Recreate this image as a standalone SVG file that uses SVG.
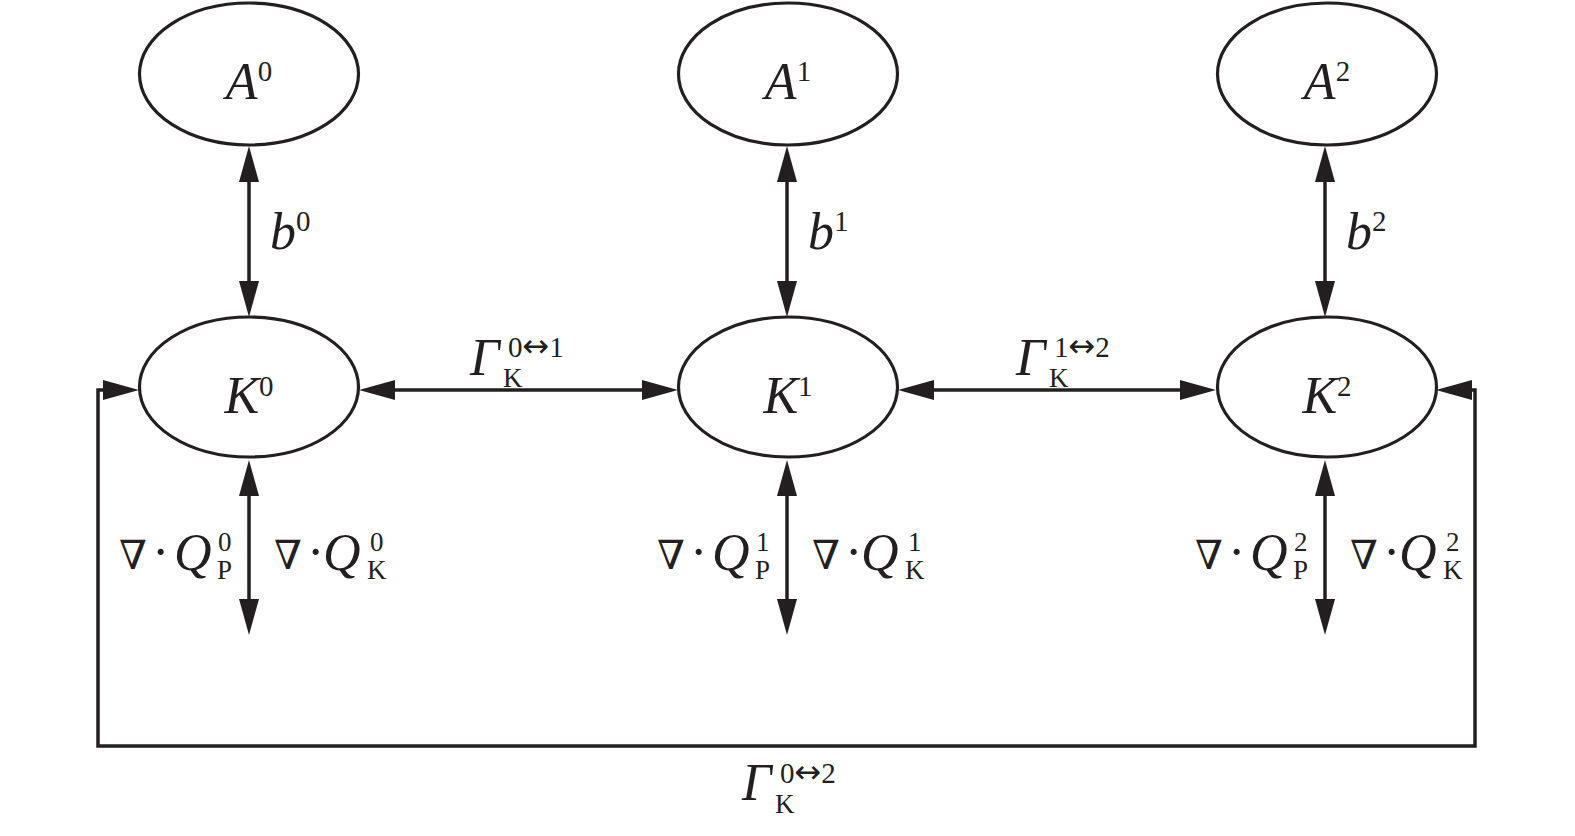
<svg xmlns="http://www.w3.org/2000/svg" width="1575" height="836" viewBox="0 0 1575 836">
<defs>
<style>
.node{fill:#fff;stroke:#231f20;stroke-width:3.2}
.ln{fill:none;stroke:#231f20;stroke-width:3.5}
text{font-family:"Liberation Serif","Times New Roman",serif;fill:#231f20}
.big{font-size:52px}
.it{font-style:italic}
.sm{font-size:29px;font-style:normal}
.ss{font-size:27px;font-style:normal}
.nab{font-size:40px;font-family:"DejaVu Serif","Liberation Serif",serif}
.ar{font-family:"DejaVu Sans",sans-serif;font-size:32px}
</style>
<marker id="arr" markerUnits="userSpaceOnUse" markerWidth="36" markerHeight="22" viewBox="0 0 36 22" refX="16" refY="11" orient="auto-start-reverse">
<path d="M0,1 L36,11 L0,21 z" fill="#231f20"/>
</marker>
</defs>
<rect width="1575" height="836" fill="#fff"/>

<g id="connectors">
<line class="ln" x1="249" y1="166" x2="249" y2="297" marker-start="url(#arr)" marker-end="url(#arr)"/>
<line class="ln" x1="787" y1="166" x2="787" y2="297" marker-start="url(#arr)" marker-end="url(#arr)"/>
<line class="ln" x1="1325" y1="166" x2="1325" y2="297" marker-start="url(#arr)" marker-end="url(#arr)"/>
<line class="ln" x1="249" y1="480" x2="249" y2="615" marker-start="url(#arr)" marker-end="url(#arr)"/>
<line class="ln" x1="787" y1="480" x2="787" y2="615" marker-start="url(#arr)" marker-end="url(#arr)"/>
<line class="ln" x1="1325" y1="480" x2="1325" y2="615" marker-start="url(#arr)" marker-end="url(#arr)"/>
<line class="ln" x1="379" y1="390" x2="658" y2="390" marker-start="url(#arr)" marker-end="url(#arr)"/>
<line class="ln" x1="918" y1="390" x2="1196" y2="390" marker-start="url(#arr)" marker-end="url(#arr)"/>
<path class="ln" d="M119,390 H98 V746 H1475 V390 H1456" marker-start="url(#arr)" marker-end="url(#arr)"/>
</g>

<g id="A0"><ellipse class="node" cx="249" cy="74" rx="109.5" ry="71"/><text class="big" x="249" y="99" text-anchor="middle"><tspan class="it">A</tspan><tspan class="sm" dy="-18">0</tspan></text></g>
<g id="A1"><ellipse class="node" cx="788" cy="74" rx="109.5" ry="71"/><text class="big" x="788" y="99" text-anchor="middle"><tspan class="it">A</tspan><tspan class="sm" dy="-18">1</tspan></text></g>
<g id="A2"><ellipse class="node" cx="1327" cy="74" rx="109.5" ry="71"/><text class="big" x="1327" y="99" text-anchor="middle"><tspan class="it">A</tspan><tspan class="sm" dy="-18">2</tspan></text></g>

<g id="K0"><ellipse class="node" cx="249" cy="387" rx="109.5" ry="70"/><text class="big" x="249" y="413" text-anchor="middle"><tspan class="it">K</tspan><tspan class="sm" dy="-17">0</tspan></text></g>
<g id="K1"><ellipse class="node" cx="788" cy="387" rx="109.5" ry="70"/><text class="big" x="788" y="413" text-anchor="middle"><tspan class="it">K</tspan><tspan class="sm" dy="-17">1</tspan></text></g>
<g id="K2"><ellipse class="node" cx="1327" cy="387" rx="109.5" ry="70"/><text class="big" x="1327" y="413" text-anchor="middle"><tspan class="it">K</tspan><tspan class="sm" dy="-17">2</tspan></text></g>

<g id="labels">
<text class="big" x="270" y="249"><tspan class="it">b</tspan><tspan class="sm" dy="-18">0</tspan></text>
<text class="big" x="808" y="249"><tspan class="it">b</tspan><tspan class="sm" dy="-18">1</tspan></text>
<text class="big" x="1346" y="249"><tspan class="it">b</tspan><tspan class="sm" dy="-18">2</tspan></text>

<text class="big" y="569"><tspan class="nab" x="119">∇</tspan><tspan x="152">·</tspan><tspan class="it" x="174" dy="1">Q</tspan><tspan class="ss" x="218" dy="-19">0</tspan><tspan class="ss" x="217" dy="28">P</tspan></text>
<text class="big" y="569"><tspan class="nab" x="274">∇</tspan><tspan x="307">·</tspan><tspan class="it" x="323" dy="1">Q</tspan><tspan class="ss" x="370" dy="-19">0</tspan><tspan class="ss" x="367" dy="28">K</tspan></text>

<text class="big" y="569"><tspan class="nab" x="657">∇</tspan><tspan x="690">·</tspan><tspan class="it" x="712" dy="1">Q</tspan><tspan class="ss" x="756" dy="-19">1</tspan><tspan class="ss" x="755" dy="28">P</tspan></text>
<text class="big" y="569"><tspan class="nab" x="812">∇</tspan><tspan x="845">·</tspan><tspan class="it" x="861" dy="1">Q</tspan><tspan class="ss" x="908" dy="-19">1</tspan><tspan class="ss" x="905" dy="28">K</tspan></text>

<text class="big" y="569"><tspan class="nab" x="1195">∇</tspan><tspan x="1228">·</tspan><tspan class="it" x="1250" dy="1">Q</tspan><tspan class="ss" x="1294" dy="-19">2</tspan><tspan class="ss" x="1293" dy="28">P</tspan></text>
<text class="big" y="569"><tspan class="nab" x="1350">∇</tspan><tspan x="1383">·</tspan><tspan class="it" x="1399" dy="1">Q</tspan><tspan class="ss" x="1446" dy="-19">2</tspan><tspan class="ss" x="1443" dy="28">K</tspan></text>

<text class="big" y="375"><tspan class="it" x="470">Γ</tspan><tspan class="sm" x="508" dy="-18">0<tspan class="ar">↔</tspan>1</tspan><tspan class="ss" x="503" dy="30">K</tspan></text>
<text class="big" y="375"><tspan class="it" x="1016">Γ</tspan><tspan class="sm" x="1054" dy="-18">1<tspan class="ar">↔</tspan>2</tspan><tspan class="ss" x="1049" dy="30">K</tspan></text>
<text class="big" y="800"><tspan class="it" x="742">Γ</tspan><tspan class="sm" x="780" dy="-17">0<tspan class="ar">↔</tspan>2</tspan><tspan class="ss" x="775" dy="30">K</tspan></text>
</g>
</svg>
